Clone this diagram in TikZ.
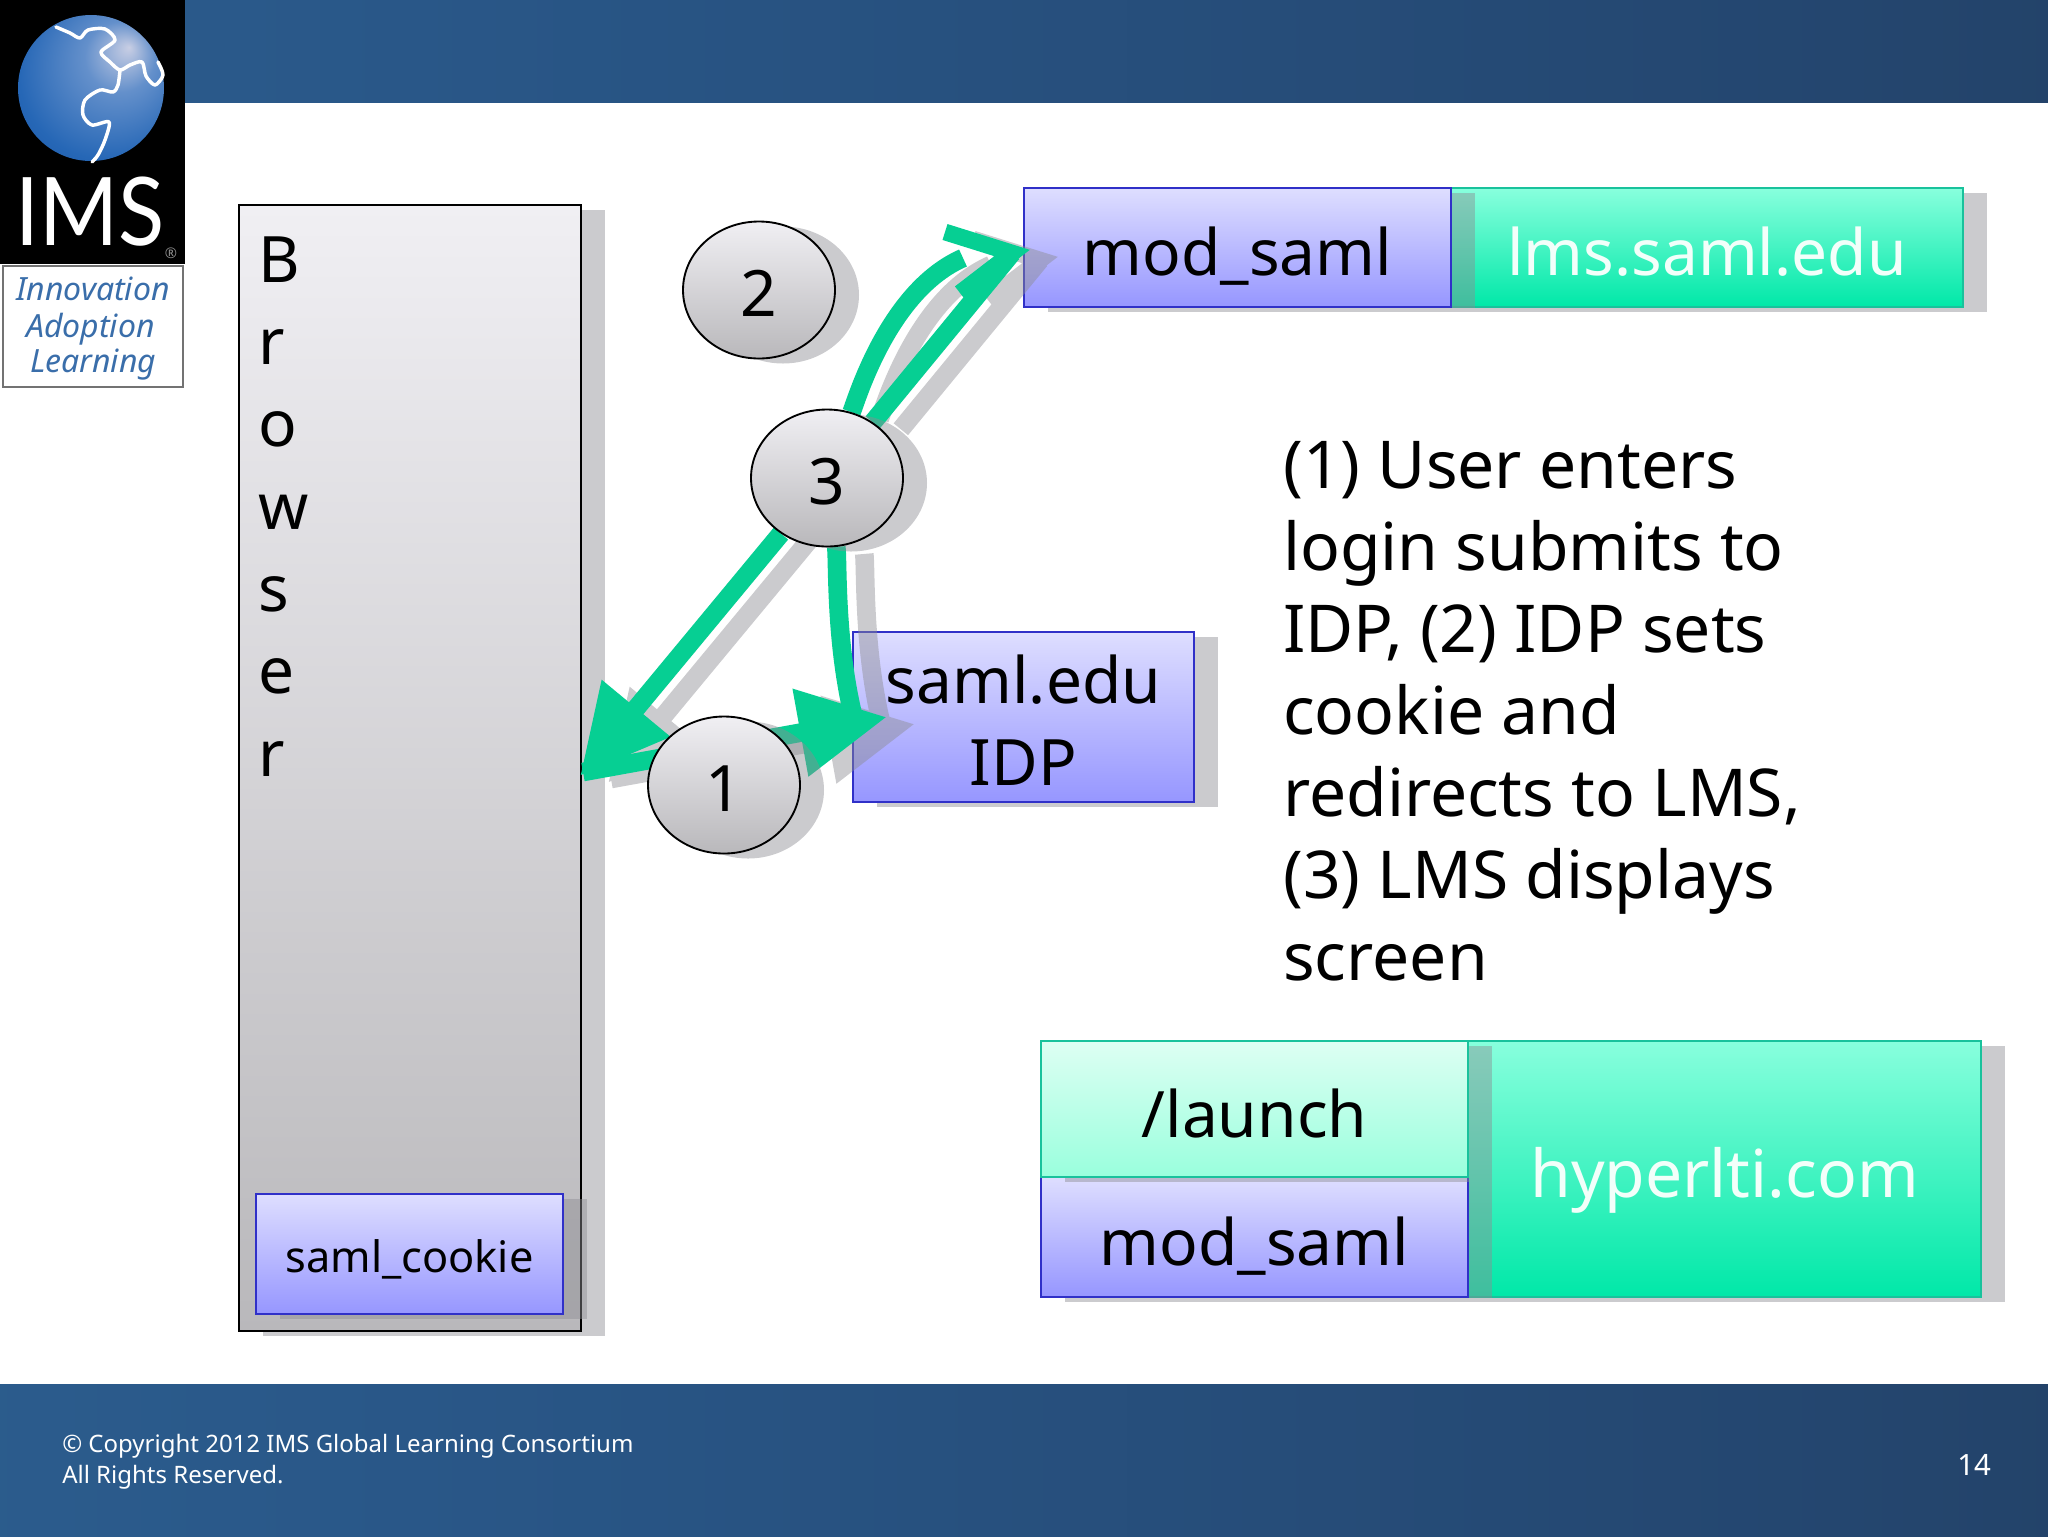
\documentclass[tikz,border=0pt]{standalone}
\usepackage{fontspec}
\setmainfont{Noto Sans}
\newfontfamily\imsfont{Lato}[FakeStretch=0.9]
\usetikzlibrary{shapes.geometric,arrows.meta,shadows}
\definecolor{barA}{HTML}{316797}
\definecolor{barB}{HTML}{295788}
\definecolor{barC}{HTML}{24466F}
\definecolor{barD}{HTML}{1F3650}
\definecolor{grn}{HTML}{06CF93}
\definecolor{shd}{HTML}{8C8C92}
\definecolor{globeA}{HTML}{C8CEE4}
\definecolor{globeB}{HTML}{6490CB}
\definecolor{globeC}{HTML}{2667B6}
\definecolor{globeD}{HTML}{134A9A}
\definecolor{blueT}{HTML}{DEDEFF}
\definecolor{blueB}{HTML}{9696FF}
\definecolor{blueL}{HTML}{3030C8}
\definecolor{grnT}{HTML}{88FFDD}
\definecolor{grnB}{HTML}{00E8A8}
\definecolor{grnL}{HTML}{19C29C}
\definecolor{lnT}{HTML}{DDFFF3}
\definecolor{lnB}{HTML}{99FFDD}
\definecolor{greyT}{HTML}{F0EFF3}
\definecolor{greyB}{HTML}{B9B8BB}
\definecolor{tagblue}{HTML}{3A6EAA}
\definecolor{grnText}{HTML}{F2FFFA}
\pgfdeclarehorizontalshading{barshade}{100bp}{color(0bp)=(barA); color(35bp)=(barB); color(70bp)=(barC); color(100bp)=(barD)}
\pgfdeclareradialshading{globeshade}{\pgfpoint{13bp}{14bp}}{color(0bp)=(globeA); color(12bp)=(globeB); color(30bp)=(globeC); color(50bp)=(globeD)}
\pgfdeclarelayer{conn}
\pgfdeclarelayer{top}
\pgfsetlayers{main,conn,top}
\tikzset{
  sz/.style 2 args={minimum width=#1*0.75pt,minimum height=#2*0.75pt,inner sep=0pt},
  sdw/.style={general shadow={shadow xshift=18pt,shadow yshift=-3.75pt,fill=shd,fill opacity=.45}},
  txt/.style={font=\fontsize{48}{61.5}\selectfont,text height=42pt,text depth=0pt},
  bluebox/.style={sdw,draw=blueL,line width=1.5pt,top color=blueT,bottom color=blueB,txt},
  greenbox/.style={sdw,draw=grnL,line width=1.5pt,top color=grnT,bottom color=grnB,txt,text=grnText},
  lab/.style={inner sep=0pt,anchor=base west},
  taglab/.style={lab,text=tagblue,font=\itshape\fontsize{24}{24}\selectfont},
  circ/.style={shape=ellipse,sz={152}{137},sdw,draw=black,line width=1.4pt,top color=greyT,bottom color=greyB,txt,text height=40pt},
  flow/.style={draw=grn,line width=14pt},
  flowshade/.style={draw=shd,line width=14pt},
  head/.style={-{Triangle[length=66pt,width=63pt]}},
  barb/.style={line width=12.5pt,miter limit=10},
}
\begin{document}
\begin{tikzpicture}[x=0.75pt,y=-0.75pt]
\useasboundingbox (0,0) rectangle (2048,1536);
% bars
\path[shading=barshade] (0,0) rectangle (2048,102);
\path[shading=barshade] (0,1384) rectangle (2048,1536);
% logo
\node[fill=black,sz={185}{264},anchor=north west] (logo) at (0,0) {};
\path[shading=globeshade] (91,88) circle (73);
\draw[white,line width=2.6pt,line cap=round,line join=round,smooth] plot coordinates {(56,27) (70,33) (80,38) (88,30) (105,29) (115,40) (101,52) (110,62) (120,70) (130,65) (142,62) (146,76) (155,85) (163,75) (158,62)};
\draw[white,line width=2.6pt,line cap=round,line join=round,smooth] plot coordinates {(120,70) (118,85) (113,92) (100,90) (85,100) (83,115) (92,125) (109,122) (105,140) (98,155) (92,162)};
\node[lab,white,font=\imsfont\fontsize{71}{71}\selectfont] (ims) at (15,245) {IMS};
\node[anchor=center,inner sep=0pt,text=black!45,font=\fontsize{11}{11}\selectfont] (reg) at (171,253) {®};
\node[draw=black!55,fill=white,line width=1.6pt,sz={180}{121},anchor=north west] (tag) at (2,265) {};
\node[taglab] (l1) at (16,300) {Innovation};
\node[taglab] (l2) at (26,337) {Adoption};
\node[taglab] (l3) at (30,372) {Learning};
% browser
\node[sdw,draw=black,line width=1.8pt,sz={342}{1126},top color=greyT,bottom color=greyB] (browser) at (410,768) {};
\node[lab,font=\fontsize{48}{61.7}\selectfont,align=left] (blabel) at (258,776) {B\\r\\o\\w\\s\\e\\r};
\node[bluebox,sz={307}{120},font=\fontsize{32.5}{40}\selectfont,text height=27pt] (cookie) at (409.5,1254) {saml\_cookie};
% boxes
\node[greenbox,sz={512}{119}] (lms) at (1707,247.5) {lms.saml.edu};
\node[bluebox,sz={427}{119}] (mod) at (1237.5,247.5) {mod\_saml};
\node[bluebox,sz={341}{170},align=center,text height=102pt,text depth=0pt] (idp) at (1023.5,717) {saml.edu\\IDP};
\node[greenbox,sz={513}{256},font=\fontsize{49.5}{61.5}\selectfont] (hyper) at (1724.5,1169) {hyperlti.com};
\node[bluebox,sz={427}{120}] (mod2) at (1254.5,1237) {mod\_saml};
\node[sdw,draw=grnL,line width=1.5pt,top color=lnT,bottom color=lnB,sz={427}{136},txt] (launch) at (1254.5,1109) {/launch};
% text
\node[lab,font=\fontsize{49.5}{61.5}\selectfont,align=left] (desc) at (1283,980) {(1) User enters\\login submits to\\IDP, (2) IDP sets\\cookie and\\redirects to LMS,\\(3) LMS displays\\screen};
\node[lab,white,font=\fontsize{18}{23.2}\selectfont,align=left] (foot) at (62,1483) {© Copyright 2012 IMS Global Learning Consortium\\All Rights Reserved.};
\node[lab,white,font=\fontsize{22}{22}\selectfont] (page) at (1957,1475) {14};
% numbered circles
\begin{pgfonlayer}{top}
\node[circ] (n1) at (724,785) {1};
\node[circ] (n2) at (759,290) {2};
\node[circ] (n3) at (827,478) {3};
\end{pgfonlayer}
% connectors
\coordinate (tb) at (580,776);
\coordinate (sb) at (583,772);
\coordinate (ti) at (887,717);
\coordinate (ci) at (853,715);
\coordinate (tm) at (1012,253);
\coordinate (b1) at (945,232);
\coordinate (b2) at (960,293);
\coordinate (cm) at (963,258);
\begin{pgfonlayer}{conn}
\begin{scope}[transform canvas={shift={(21pt,-5.25pt)}}]
\begin{scope}[transparency group,opacity=.45]
\draw[flowshade,head] (n3) -- (tb);
\draw[flowshade,head] (sb) -- (ti);
\draw[flowshade] (n3) .. controls (838,560) and (835,640) .. (ci);
\draw[flowshade] (n3) .. controls (858,395) and (890,290) .. (cm);
\draw[flowshade] (n3) -- (tm);
\draw[flowshade,barb] (b1) -- (tm) -- (b2);
\end{scope}
\end{scope}
\draw[flow,head] (n3) -- (tb);
\draw[flow,head] (sb) -- (ti);
\draw[flow] (n3) .. controls (838,560) and (835,640) .. (ci);
\draw[flow] (n3) .. controls (858,395) and (890,290) .. (cm);
\draw[flow] (n3) -- (tm);
\draw[flow,barb] (b1) -- (tm) -- (b2);
\end{pgfonlayer}
\end{tikzpicture}
\end{document}
